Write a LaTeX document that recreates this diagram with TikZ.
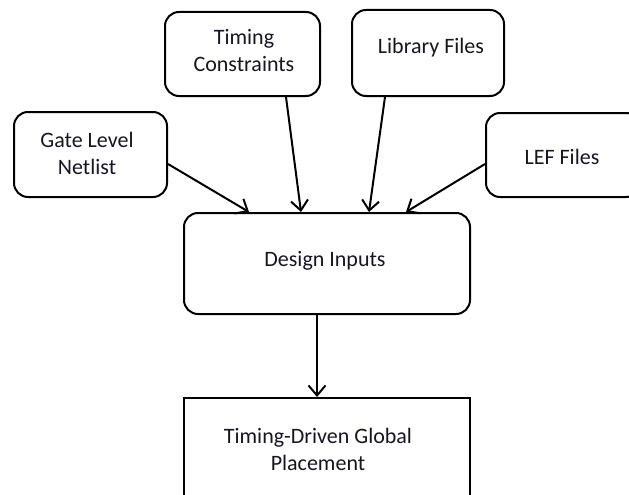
\documentclass[tikz,border=0pt]{standalone}
\usepackage{fontspec}
\setmainfont{Carlito}
\usetikzlibrary{arrows.meta}
\definecolor{inktext}{RGB}{22,22,36}
\begin{document}
\begin{tikzpicture}[x=1pt,y=-1pt,
  box/.style={draw=black,line width=2pt,rounded corners=14pt,fill=white,
    text=inktext,align=center,inner sep=0pt,
    font=\fontsize{22}{27}\selectfont},
  plainbox/.style={box,rounded corners=0pt},
  flow/.style={draw=black,line width=2pt,-{Straight Barb[length=10pt,width=17pt,line width=2pt]}},
  lbl/.style={text=inktext,align=center,font=\fontsize{22}{27}\selectfont}]
\useasboundingbox (0,0) rectangle (629,495);
\begin{scope}
\clip (0,0) rectangle (629,495);
% input boxes
\node[box,minimum width=153pt,minimum height=85pt] (gate) at (90.5,154.5) {};
\node[lbl] (gatetxt) at (87,153) {Gate Level\\Netlist};
\node[box,minimum width=155pt,minimum height=84pt] (timing) at (242.5,54) {};
\node[lbl] (timingtxt) at (244,50.5) {Timing\\Constraints};
\node[box,minimum width=152pt,minimum height=86pt] (library) at (428,53) {};
\node[lbl] (librarytxt) at (431,48) {Library Files};
\node[box,minimum width=154pt,minimum height=84pt] (lef) at (563,155) {};
\node[lbl] (leftxt) at (562,157) {LEF Files};
% merged inputs
\node[box,minimum width=286pt,minimum height=101pt] (design) at (327,263.5) {};
\node[lbl] (designtxt) at (325,261) {Design Inputs};
% placement step
\node[plainbox,minimum width=286pt,minimum height=100pt] (place) at (327,448) {};
\node[lbl] (placetxt) at (318,449) {Timing-Driven Global\\Placement};
\end{scope}
% connectors
\draw[flow] ([yshift=-9.5pt]gate.east) -- ([xshift=66pt]design.north west);
\draw[flow] ([xshift=122pt]timing.south west) -- ([xshift=118pt]design.north west);
\draw[flow] ([xshift=34pt]library.south west) -- ([xshift=186pt]design.north west);
\draw[flow] ([yshift=-9pt]lef.west) -- ([xshift=223pt]design.north west);
\draw[flow] ([xshift=134pt]design.south west) -- ([xshift=134pt]place.north west);
\end{tikzpicture}
\end{document}
